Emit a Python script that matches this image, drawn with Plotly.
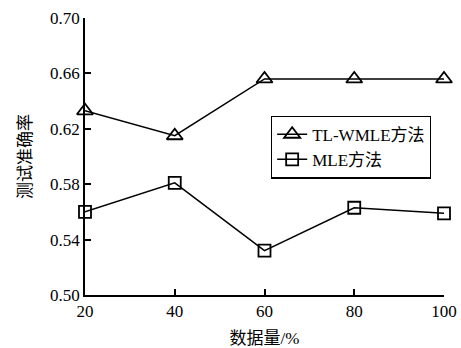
import plotly.graph_objects as go

# Data amount (%) and test accuracy for each method
data_pct = [20, 40, 60, 80, 100]
tl_wmle_acc = [0.633, 0.615, 0.656, 0.656, 0.656]
mle_acc = [0.560, 0.581, 0.532, 0.563, 0.559]
y_ticks = [0.50, 0.54, 0.58, 0.62, 0.66, 0.70]

FONT = "Liberation Serif, Times New Roman, Noto Sans CJK SC, serif"

fig = go.Figure()
fig.add_trace(go.Scatter(
    x=data_pct, y=tl_wmle_acc, mode="lines+markers", name="TL-WMLE方法",
    cliponaxis=False,
    line=dict(color="black", width=1.5),
    marker=dict(symbol="triangle-up-open", size=14, color="black",
                line=dict(width=1.8, color="black")),
))
fig.add_trace(go.Scatter(
    x=data_pct, y=mle_acc, mode="lines+markers", name="MLE方法",
    cliponaxis=False,
    line=dict(color="black", width=1.5),
    marker=dict(symbol="square-open", size=12, color="black",
                line=dict(width=1.8, color="black")),
))

fig.update_layout(
    width=461, height=348,
    margin=dict(l=85, r=17, t=18, b=53),
    paper_bgcolor="white", plot_bgcolor="white",
    font=dict(family=FONT, size=17, color="black"),
    showlegend=True,
    legend=dict(
        x=0.518, y=0.648, xanchor="left", yanchor="top",
        bgcolor="white", bordercolor="black", borderwidth=1.2,
        font=dict(family=FONT, size=17, color="black"),
        tracegroupgap=0, itemwidth=30,
    ),
    xaxis=dict(
        range=[20, 100], tickvals=data_pct, ticktext=[str(v) for v in data_pct],
        automargin=False,
        showline=True, linecolor="black", linewidth=1.5, mirror=False,
        ticks="inside", ticklen=6, tickwidth=1.5, tickcolor="black",
        showgrid=False, zeroline=False,
        title=dict(text="数据量/%", font=dict(family=FONT, size=17), standoff=20),
    ),
    yaxis=dict(
        range=[0.50, 0.70], tickvals=y_ticks, ticktext=[f"{v:.2f}" for v in y_ticks],
        automargin=False,
        showline=True, linecolor="black", linewidth=1.5, mirror=False,
        ticks="inside", ticklen=6, tickwidth=1.5, tickcolor="black",
        showgrid=False, zeroline=False,
        title=dict(text="测试准确率", font=dict(family=FONT, size=17), standoff=14),
    ),
)

fig.write_html("out.html")
